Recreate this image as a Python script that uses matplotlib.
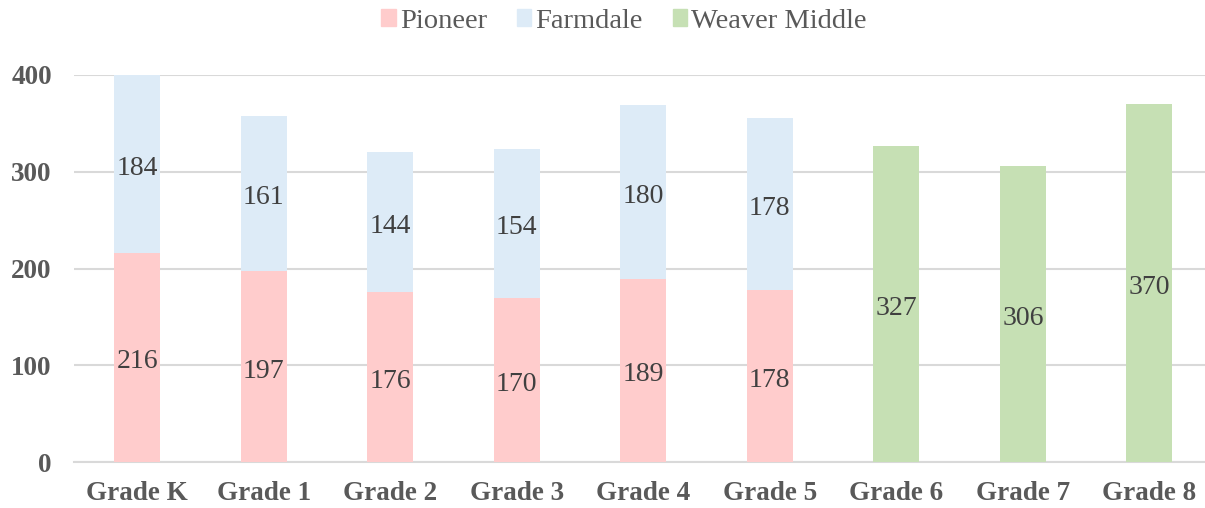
import matplotlib
matplotlib.use("Agg")
import matplotlib.pyplot as plt
from matplotlib.patches import Patch

plt.rcParams['font.family'] = ['Liberation Serif', 'DejaVu Serif']

grades = ["Grade K", "Grade 1", "Grade 2", "Grade 3", "Grade 4", "Grade 5", "Grade 6", "Grade 7", "Grade 8"]
pioneer = [216, 197, 176, 170, 189, 178, 0, 0, 0]
farmdale = [184, 161, 144, 154, 180, 178, 0, 0, 0]
weaver = [0, 0, 0, 0, 0, 0, 327, 306, 370]
yticks = [0, 100, 200, 300, 400]

c_p, c_f, c_w = "#FFCCCC", "#DDEBF7", "#C6E0B4"
txt = "#595959"
lab = "#404040"

fig = plt.figure(figsize=(12.05, 5.08), dpi=100)
ax = fig.add_axes([74/1205, 1 - 462/508, (1205-74)/1205, (462-75)/508])

x = list(range(len(grades)))
w = 0.365
ax.bar(x, pioneer, w, color=c_p, zorder=3)
ax.bar(x, farmdale, w, bottom=pioneer, color=c_f, zorder=3)
ax.bar(x, weaver, w, color=c_w, zorder=3)

def label(xi, yi, v):
    ax.annotate(str(v), (xi, yi), xytext=(0, -1), textcoords='offset points',
                ha='center', va='center_baseline', fontsize=20, color=lab, zorder=4)

for i in x:
    if pioneer[i]:
        label(i, pioneer[i]/2, pioneer[i])
    if farmdale[i]:
        label(i, pioneer[i] + farmdale[i]/2, farmdale[i])
    if weaver[i]:
        label(i, weaver[i]/2, weaver[i])

ax.set_xlim(-0.5, 8.44)
ax.set_ylim(0, 400)
ax.set_yticks(yticks)
ax.set_xticks(x)
ax.set_xticklabels(grades, fontsize=19.5, fontweight='bold', color=txt)
ax.set_yticklabels([str(v) for v in yticks], fontsize=19.5, fontweight='bold', color=txt)
ax.tick_params(axis='both', length=0)
ax.tick_params(axis='x', pad=14)
ax.tick_params(axis='y', pad=16)
ax.grid(axis='y', color="#D9D9D9", linewidth=1.5, zorder=0)
for s in ['top', 'right', 'left']:
    ax.spines[s].set_visible(False)
ax.spines['bottom'].set_color("#D9D9D9")
ax.spines['bottom'].set_linewidth(1.5)

handles = [Patch(color=c_p, label="Pioneer"), Patch(color=c_f, label="Farmdale"), Patch(color=c_w, label="Weaver Middle")]
leg = fig.legend(handles=handles, loc='center', bbox_to_anchor=(624/1205, 1 - 21/508), ncol=3, frameon=False,
                 fontsize=20.5, handlelength=0.5, handleheight=0.5, handletextpad=0.15, columnspacing=1.05)
for t in leg.get_texts():
    t.set_color(txt)

fig.savefig("out.png", dpi=100)
